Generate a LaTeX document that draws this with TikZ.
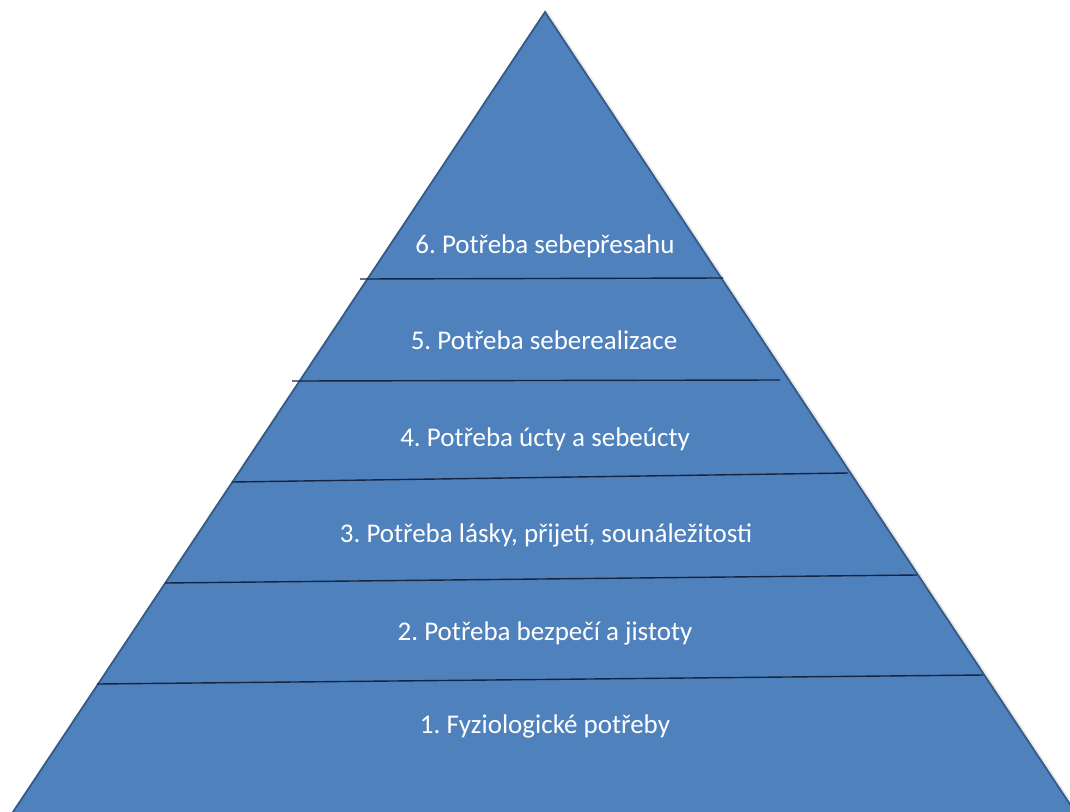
\documentclass[tikz,border=0pt]{standalone}
\usepackage{fontspec}
\setmainfont{Carlito}
\definecolor{pyrfill}{HTML}{4F81BD}
\definecolor{pyredge}{HTML}{355A88}
\definecolor{divline}{HTML}{18243F}
\frenchspacing
\begin{document}
\begin{tikzpicture}[x=1pt,y=-1pt,
  lvl/.style={text=white, font=\fontsize{27}{30}\selectfont, anchor=base, inner sep=0pt},
  divider/.style={draw=divline, line width=1.4pt}]
\useasboundingbox (0,0) rectangle (1070,811);
\coordinate (apex) at (545,12);
\coordinate (bl) at (1,830);
\coordinate (br) at (1087,830);
\fill[black!25, opacity=0.35] ([xshift=2pt,yshift=2pt]apex) -- ([xshift=2pt,yshift=2pt]bl) -- ([xshift=2pt,yshift=2pt]br) -- cycle;
\filldraw[fill=pyrfill, draw=pyredge, line width=1.8pt, line join=miter] (apex) -- (bl) -- (br) -- cycle;
% dividers
\coordinate (a1) at (360,279); \coordinate (b1) at (723,278);
\coordinate (a2) at (292,381); \coordinate (b2) at (780,380);
\coordinate (a3) at (232,482); \coordinate (b3) at (848,473);
\coordinate (a4) at (165,583); \coordinate (b4) at (917,575);
\coordinate (a5) at (97,684);  \coordinate (b5) at (983,675);
\draw[divider] (a1) -- (b1);
\draw[divider] (a2) -- (b2);
\draw[divider] (a3) -- (b3);
\draw[divider] (a4) -- (b4);
\draw[divider] (a5) -- (b5);
% labels
\node[lvl] (t6) at (545,253) {6. Potřeba sebepřesahu};
\node[lvl] (t5) at (544,349) {5. Potřeba seberealizace};
\node[lvl] (t4) at (545,446) {4. Potřeba úcty a sebeúcty};
\node[lvl] (t3) at (546,542) {3. Potřeba lásky, přijetí, sounáležitosti};
\node[lvl] (t2) at (545,640) {2. Potřeba bezpečí a jistoty};
\node[lvl] (t1) at (545,733) {1. Fyziologické potřeby};
\end{tikzpicture}
\end{document}
